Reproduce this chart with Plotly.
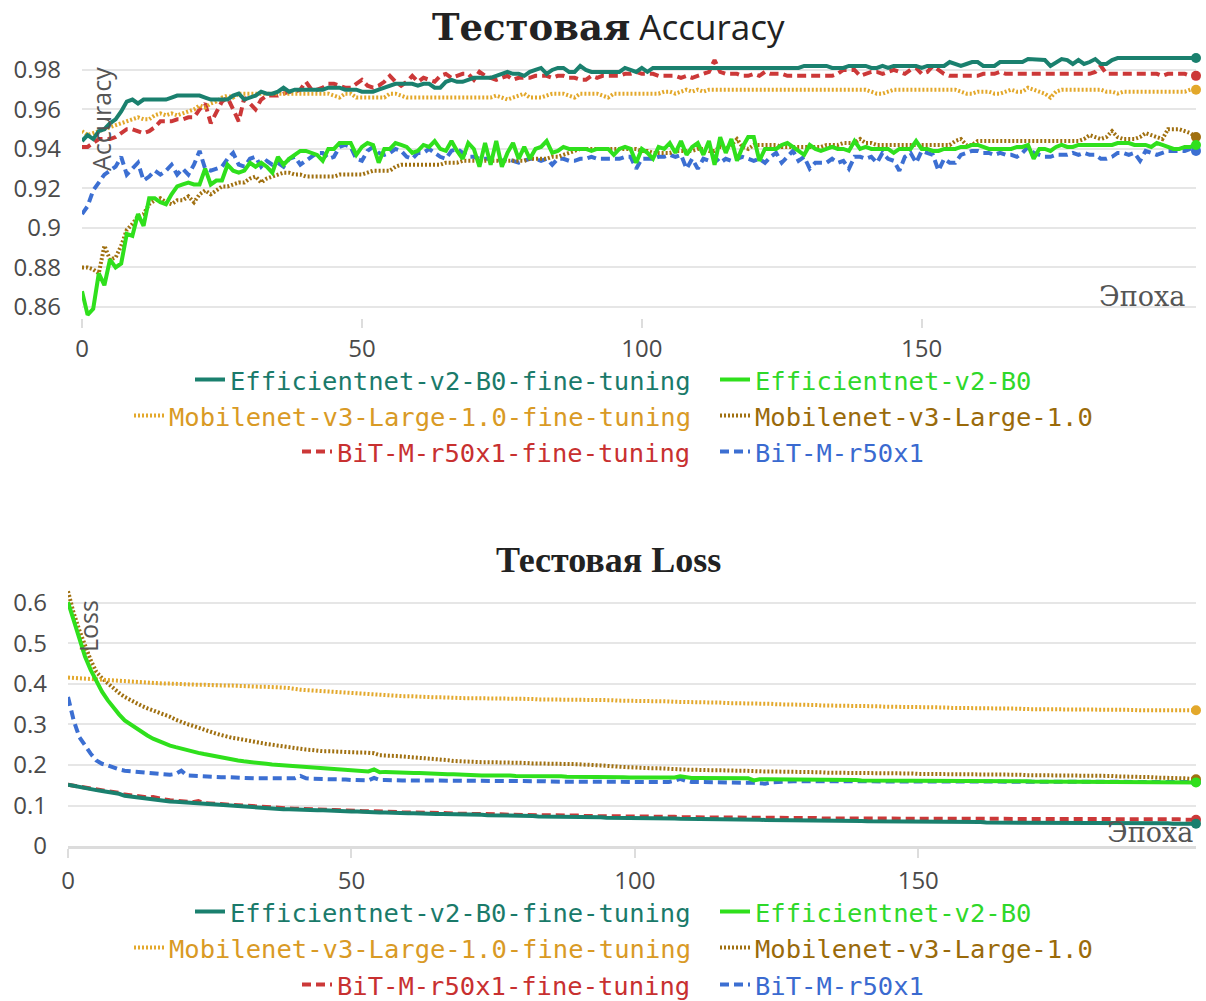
import plotly.graph_objects as go

# ---------------- data ----------------
epochs = list(range(200))

series_names = [
    "Efficientnet-v2-B0-fine-tuning",
    "Efficientnet-v2-B0",
    "Mobilenet-v3-Large-1.0-fine-tuning",
    "Mobilenet-v3-Large-1.0",
    "BiT-M-r50x1-fine-tuning",
    "BiT-M-r50x1",
]

# Test accuracy, in thousandths
acc_effnet_ft = [
    944, 947, 945, 949, 950, 953, 955, 959, 964, 965,
    963, 965, 965, 965, 965, 965, 966, 967, 967, 967,
    967, 967, 966, 965, 965, 965, 965, 967, 968, 965,
    966, 967, 969, 968, 968, 969, 971, 969, 970, 970,
    970, 970, 970, 970, 971, 971, 971, 970, 970, 970,
    969, 969, 969, 970, 971, 972, 973, 973, 973, 973,
    972, 973, 973, 971, 971, 974, 975, 974, 974, 975,
    976, 976, 976, 976, 977, 978, 979, 978, 978, 977,
    979, 980, 981, 978, 980, 981, 981, 979, 979, 982,
    980, 979, 979, 979, 979, 979, 979, 981, 980, 979,
    981, 979, 981, 981, 981, 981, 981, 981, 981, 981,
    981, 981, 981, 981, 981, 981, 981, 981, 981, 981,
    981, 981, 981, 981, 981, 981, 981, 981, 981, 982,
    982, 982, 982, 982, 981, 981, 981, 982, 982, 982,
    982, 981, 981, 982, 981, 982, 982, 982, 982, 982,
    981, 982, 982, 982, 982, 984, 983, 982, 983, 984,
    984, 982, 982, 982, 984, 984, 984, 984, 984, 985.5,
    985.5, 985.5, 985, 982, 984, 985.5, 985, 983, 985, 983,
    984, 985.5, 983, 983, 985, 986, 986, 986, 986, 986,
    986, 986, 986, 986, 986, 986, 986, 986, 986, 986,
]
acc_effnet = [
    868, 856, 859, 877, 871, 884, 880, 882, 897, 896,
    907, 901, 915, 915, 913, 912, 917, 921, 922, 923,
    922, 922, 930, 922, 924, 924, 932, 929, 928, 929,
    933, 931, 933, 931, 928, 936, 932, 935, 937, 939,
    939, 938, 937, 934, 940, 940, 943, 943, 943, 937,
    941, 943, 942, 933, 940, 940, 943, 942, 941, 938,
    939, 942, 941, 944, 940, 939, 944, 939, 935, 943,
    940, 931, 943, 932, 944, 931, 938, 943, 935, 941,
    935, 940, 941, 944, 938, 939, 941, 940, 940, 940,
    940, 939, 940, 940, 940, 937, 940, 941, 940, 933,
    940, 938, 935, 941, 940, 943, 938, 944, 937, 941,
    943, 937, 944, 932, 946, 938, 945, 934, 941, 946,
    946, 934, 940, 940, 940, 942, 943, 941, 939, 937,
    942, 940, 939, 940, 941, 940, 940, 939, 944, 940,
    941, 940, 940, 940, 940, 938, 940, 940, 940, 944,
    940, 940, 939, 939, 940, 940, 940, 941, 941, 942,
    942, 941, 940, 940, 940, 940, 940, 941, 941, 942,
    935, 940, 940, 939, 941, 942, 941, 941, 942, 942,
    942, 942, 942, 942, 942, 943, 943, 943, 942, 942,
    942, 941, 943, 942, 941, 940, 940, 941, 941, 942,
]
acc_mobilenet_ft = [
    949, 947, 948, 949, 950, 951, 952, 953, 954, 955,
    956, 955, 955, 957, 958, 957, 958, 957, 958, 959,
    960, 962, 961, 963, 964, 966, 967, 966, 968, 968,
    968, 968, 968, 968, 968, 968, 968, 968, 968, 968,
    968, 968, 968, 968, 968, 967, 966, 968, 968, 966,
    966, 966, 966, 966, 966, 968, 968, 967, 966, 966,
    966, 966, 966, 966, 966, 966, 966, 966, 966, 966,
    966, 966, 966, 966, 967, 966, 965, 966, 967, 968,
    966, 966, 966, 967, 968, 968, 968, 967, 966, 968,
    968, 968, 968, 967, 966, 968, 968, 968, 968, 968,
    968, 968, 968, 968, 969, 969, 968, 969, 970, 969,
    970, 969, 970, 970, 970, 970, 970, 970, 970, 970,
    970, 970, 970, 970, 970, 970, 970, 970, 970, 970,
    970, 970, 970, 970, 970, 970, 970, 970, 970, 970,
    970, 969, 968, 968, 969, 970, 970, 970, 970, 970,
    970, 970, 970, 970, 970, 970, 970, 969, 968, 968,
    969, 969, 969, 968, 968, 969, 970, 969, 969, 971,
    970, 969, 968, 966, 969, 970, 970, 970, 970, 970,
    970, 970, 970, 969, 969, 968, 969, 969, 969, 969,
    969, 969, 969, 969, 969, 969, 969, 969, 970, 970,
]
acc_mobilenet = [
    880, 880, 879, 877, 891, 884, 885, 891, 899, 902,
    906, 907, 912, 914, 915, 913, 912, 914, 914, 916,
    913, 917, 919, 917, 919, 921, 921, 922, 923, 923,
    925, 926, 923, 925, 926, 927, 928, 928, 927, 927,
    926, 926, 926, 926, 926, 926, 927, 927, 927, 927,
    927, 928, 929, 929, 929, 929, 931, 932, 932, 932,
    932, 932, 932, 932, 932, 933, 933, 933, 934, 934,
    934, 934, 934, 934, 934, 934, 934, 934, 934, 934,
    935, 935, 935, 935, 936, 936, 937, 938, 939, 940,
    940, 940, 940, 940, 940, 940, 940, 940, 940, 940,
    939, 939, 938, 938, 938, 938, 939, 939, 939, 939,
    940, 940, 939, 939, 941, 940, 942, 945, 941, 940,
    942, 942, 942, 942, 942, 941, 941, 941, 941, 941,
    941, 941, 941, 942, 942, 942, 943, 943, 943, 945,
    943, 943, 942, 942, 942, 942, 942, 942, 942, 942,
    942, 942, 942, 942, 942, 942, 944, 945, 942, 942,
    944, 944, 944, 944, 944, 944, 944, 944, 944, 944,
    944, 944, 944, 944, 944, 944, 944, 944, 944, 945,
    947, 946, 945, 946, 949, 946, 945, 945, 945, 946,
    948, 947, 946, 945, 950, 950, 950, 949, 948, 946,
]
acc_bit_ft = [
    941, 941, 943, 945, 945, 945, 946, 948, 950, 950,
    949, 948, 949, 951, 954, 954, 954, 955, 955, 956,
    956, 960, 963, 953, 958, 964, 966, 960, 954, 966,
    963, 960, 965, 967, 967, 967, 968, 969, 969, 970,
    974, 970, 970, 971, 973, 973, 972, 971, 971, 973,
    975, 972, 971, 972, 974, 977, 974, 972, 974, 977,
    974, 976, 975, 974, 977, 978, 976, 977, 978, 978,
    975, 979, 977, 976, 975, 976, 977, 975, 976, 976,
    976, 977, 977, 977, 976, 977, 977, 976, 976, 975,
    975, 977, 976, 977, 977, 977, 977, 978, 978, 979,
    978, 978, 978, 977, 977, 977, 977, 976, 977, 976,
    977, 978, 979, 985, 979, 978, 978, 978, 977, 977,
    978, 977, 979, 978, 978, 978, 977, 977, 977, 977,
    977, 977, 977, 977, 977, 978, 980, 980, 980, 977,
    978, 979, 979, 978, 979, 980, 979, 978, 980, 981,
    978, 979, 982, 980, 978, 977, 977, 977, 977, 977,
    977, 978, 978, 978, 979, 978, 978, 978, 978, 978,
    978, 978, 978, 978, 978, 978, 978, 978, 978, 978,
    978, 979, 982, 978, 978, 978, 978, 978, 978, 978,
    978, 978, 978, 977, 978, 978, 978, 978, 977, 977,
]
acc_bit = [
    907, 911, 919, 923, 927, 929, 931, 936, 927, 930,
    933, 924, 926, 929, 927, 929, 932, 927, 930, 927,
    932, 939, 930, 929, 930, 931, 935, 938, 932, 931,
    935, 936, 931, 934, 932, 933, 931, 935, 936, 932,
    934, 936, 938, 938, 935, 936, 941, 942, 941, 935,
    934, 939, 941, 938, 937, 938, 940, 939, 936, 935,
    938, 938, 940, 938, 936, 935, 939, 940, 938, 936,
    936, 935, 935, 935, 935, 934, 935, 934, 933, 934,
    935, 935, 934, 935, 932, 935, 935, 934, 934, 935,
    935, 936, 935, 935, 935, 935, 935, 936, 936, 930,
    935, 935, 935, 936, 936, 937, 936, 937, 930, 935,
    930, 935, 934, 936, 933, 935, 934, 935, 936, 935,
    934, 935, 933, 936, 938, 933, 936, 939, 934, 936,
    930, 933, 933, 933, 935, 933, 934, 930, 936, 936,
    935, 936, 933, 938, 935, 934, 929, 936, 938, 933,
    939, 938, 937, 929, 935, 933, 933, 937, 938, 939,
    939, 938, 938, 937, 938, 937, 937, 936, 938, 941,
    938, 937, 936, 936, 937, 937, 937, 938, 937, 938,
    937, 937, 935, 935, 936, 938, 938, 937, 938, 934,
    939, 938, 937, 938, 939, 939, 939, 939, 940, 939,
]

# Test loss, in thousandths
loss_effnet_ft = [
    151, 148, 146, 143, 141, 138, 136, 134, 131, 129,
    124, 122, 120, 119, 117, 115, 114, 112, 110, 109,
    108, 106, 105, 104, 103, 102, 101, 100, 99, 98,
    97, 96, 95, 94, 94, 93, 92, 92, 91, 91,
    90, 90, 89, 89, 88, 88, 87, 87, 86, 86,
    85, 85, 84, 84, 84, 83, 83, 82, 82, 81,
    81, 81, 80, 80, 80, 79, 79, 79, 78, 78,
    78, 77, 77, 77, 76, 76, 76, 75, 75, 75,
    74, 74, 74, 73, 73, 73, 73, 72, 72, 72,
    72, 71, 71, 71, 71, 70, 70, 70, 70, 69,
    69, 69, 69, 68, 68, 68, 68, 68, 67, 67,
    67, 67, 66, 66, 66, 66, 66, 65, 65, 65,
    65, 65, 65, 64, 64, 64, 64, 64, 63, 63,
    63, 63, 63, 63, 62, 62, 62, 62, 62, 62,
    62, 61, 61, 61, 61, 61, 61, 60, 60, 60,
    60, 60, 60, 60, 59, 59, 59, 59, 59, 59,
    59, 59, 58, 58, 58, 58, 58, 58, 58, 58,
    57, 57, 57, 57, 57, 57, 57, 57, 57, 57,
    57, 57, 57, 57, 56, 56, 56, 56, 56, 56,
    56, 56, 56, 56, 56, 55, 55, 55, 55, 55,
]
loss_effnet = [
    602, 559, 509, 468, 435, 406, 381, 360, 341, 325,
    310, 300, 290, 281, 273, 265, 259, 253, 248, 244,
    240, 236, 233, 230, 227, 224, 221, 218, 216, 213,
    211, 209, 208, 206, 205, 203, 201, 200, 198, 196,
    195, 194, 193, 192, 191, 190, 189, 188, 187, 187,
    186, 186, 185, 184, 189, 182, 183, 182, 182, 181,
    181, 180, 180, 179, 178, 178, 178, 177, 177, 176,
    176, 175, 175, 174, 174, 174, 176, 174, 174, 173,
    173, 173, 173, 172, 172, 174, 172, 172, 171, 171,
    171, 171, 172, 170, 170, 170, 170, 170, 170, 169,
    169, 169, 169, 169, 169, 169, 169, 169, 172, 169,
    168, 168, 168, 168, 168, 168, 168, 168, 167, 167,
    167, 162, 165, 165, 165, 165, 165, 165, 164, 164,
    164, 164, 164, 163, 163, 163, 163, 163, 163, 163,
    162, 162, 162, 162, 162, 162, 162, 162, 162, 162,
    161, 161, 161, 161, 161, 161, 161, 161, 161, 161,
    160, 160, 160, 160, 160, 160, 160, 160, 160, 160,
    159, 159, 159, 159, 159, 159, 159, 159, 159, 159,
    159, 159, 159, 158, 158, 158, 158, 158, 158, 158,
    158, 158, 157, 157, 157, 157, 157, 157, 157, 157,
]
loss_mobilenet_ft = [
    416, 415, 414, 413, 412, 411, 410, 409, 408, 407,
    406, 405, 404, 403, 403, 402, 402, 401, 401, 400,
    399, 399, 398, 398, 398, 397, 397, 397, 396, 396,
    395, 395, 394, 394, 393, 393, 393, 392, 391, 390,
    387, 386, 385, 384, 383, 382, 381, 380, 379, 378,
    377, 376, 375, 375, 374, 373, 373, 372, 371, 370,
    370, 369, 369, 368, 368, 367, 367, 366, 366, 366,
    365, 365, 365, 365, 364, 364, 364, 364, 363, 363,
    363, 363, 363, 362, 362, 362, 362, 362, 361, 361,
    361, 361, 360, 360, 360, 360, 360, 359, 359, 359,
    359, 358, 358, 358, 357, 357, 357, 356, 356, 356,
    355, 355, 355, 354, 354, 354, 353, 353, 353, 352,
    352, 352, 351, 351, 351, 350, 350, 349, 349, 348,
    348, 348, 348, 347, 347, 347, 347, 346, 346, 346,
    345, 345, 345, 345, 344, 344, 344, 344, 343, 343,
    343, 343, 342, 342, 342, 342, 341, 341, 341, 341,
    340, 340, 340, 340, 339, 339, 339, 339, 339, 338,
    338, 338, 338, 338, 338, 337, 337, 337, 337, 337,
    337, 337, 336, 336, 336, 336, 336, 336, 336, 335,
    335, 335, 335, 335, 335, 335, 335, 335, 335, 335,
]
loss_mobilenet = [
    629, 575, 533, 493, 459, 430, 414, 402, 389, 378,
    368, 360, 352, 346, 340, 335, 330, 325, 319, 312,
    306, 301, 297, 292, 286, 281, 278, 274, 270, 267,
    265, 262, 260, 257, 255, 252, 250, 248, 245, 243,
    240, 239, 238, 237, 235, 234, 234, 233, 233, 232,
    232, 231, 231, 230, 229, 224, 224, 223, 222, 221,
    220, 219, 218, 218, 217, 216, 214, 212, 210, 209,
    209, 208, 208, 207, 207, 207, 206, 206, 205, 205,
    205, 205, 204, 204, 204, 203, 203, 203, 203, 202,
    202, 201, 201, 200, 199, 198, 196, 196, 195, 194,
    194, 193, 193, 192, 192, 191, 190, 190, 189, 188,
    188, 188, 187, 187, 187, 187, 186, 186, 186, 186,
    185, 185, 185, 184, 184, 184, 184, 183, 183, 182,
    182, 182, 182, 182, 181, 181, 181, 181, 181, 180,
    180, 180, 180, 180, 180, 179, 179, 179, 179, 179,
    178, 178, 178, 178, 178, 178, 177, 177, 177, 177,
    177, 176, 176, 176, 176, 176, 176, 176, 176, 175,
    175, 175, 175, 175, 175, 174, 174, 174, 174, 174,
    174, 173, 173, 173, 173, 172, 172, 172, 171, 171,
    170, 170, 169, 169, 168, 168, 167, 167, 166, 165,
]
loss_bit_ft = [
    151, 149, 147, 144, 142, 140, 137, 135, 133, 131,
    127, 125, 123, 122, 120, 121, 117, 115, 113, 112,
    110, 109, 108, 111, 106, 105, 104, 103, 102, 101,
    100, 99, 98, 97, 96, 96, 95, 94, 94, 93,
    92, 92, 91, 91, 90, 90, 89, 89, 88, 88,
    87, 87, 86, 86, 86, 85, 85, 84, 84, 83,
    83, 83, 82, 82, 82, 81, 81, 81, 80, 80,
    80, 79, 79, 79, 78, 78, 78, 78, 77, 77,
    77, 77, 76, 76, 76, 76, 75, 75, 75, 75,
    75, 74, 74, 74, 74, 74, 73, 73, 73, 73,
    73, 73, 72, 72, 72, 72, 72, 72, 71, 71,
    71, 71, 71, 71, 70, 70, 70, 70, 70, 70,
    70, 70, 70, 69, 69, 69, 69, 69, 69, 69,
    69, 69, 69, 68, 68, 68, 68, 68, 68, 68,
    68, 68, 68, 68, 68, 68, 68, 68, 68, 68,
    68, 67, 67, 67, 67, 67, 67, 67, 67, 67,
    67, 67, 67, 67, 67, 67, 67, 67, 67, 67,
    67, 67, 67, 67, 67, 66, 66, 66, 66, 66,
    66, 66, 66, 66, 66, 66, 66, 66, 66, 66,
    66, 66, 66, 66, 66, 66, 66, 65, 65, 65,
]
loss_bit = [
    368, 310, 269, 248, 228, 211, 203, 199, 193, 189,
    186, 185, 184, 183, 182, 180, 179, 178, 176, 178,
    186, 174, 173, 173, 172, 172, 171, 170, 170, 169,
    168, 168, 168, 167, 167, 167, 167, 167, 167, 167,
    167, 173, 167, 166, 166, 166, 165, 165, 164, 164,
    163, 163, 163, 162, 168, 163, 163, 162, 162, 162,
    162, 162, 162, 162, 161, 161, 161, 161, 161, 161,
    161, 161, 161, 161, 160, 160, 160, 160, 160, 160,
    160, 160, 160, 160, 160, 159, 159, 159, 159, 159,
    159, 159, 159, 159, 158, 158, 158, 158, 158, 158,
    158, 158, 158, 158, 158, 158, 158, 161, 166, 161,
    158, 158, 158, 158, 158, 158, 157, 157, 157, 157,
    157, 156, 155, 154, 157, 157, 158, 159, 160, 160,
    160, 160, 160, 160, 160, 160, 160, 160, 159, 159,
    159, 159, 159, 159, 159, 159, 159, 159, 159, 159,
    159, 159, 159, 159, 159, 159, 159, 159, 159, 159,
    159, 159, 159, 158, 158, 158, 158, 158, 158, 158,
    158, 158, 158, 158, 158, 158, 158, 158, 158, 158,
    158, 158, 158, 158, 158, 158, 158, 158, 158, 158,
    158, 158, 158, 158, 158, 158, 158, 158, 158, 158,
]

acc_series = [acc_effnet_ft, acc_effnet, acc_mobilenet_ft, acc_mobilenet, acc_bit_ft, acc_bit]
loss_series = [loss_effnet_ft, loss_effnet, loss_mobilenet_ft, loss_mobilenet, loss_bit_ft, loss_bit]

# ---------------- styles ----------------
W, H = 1206, 1001
line_colors = ["#1a806e", "#2fe01c", "#e3a82b", "#a07010", "#cc3838", "#3c6fd2"]
text_colors = ["#1a7a6a", "#2fd82a", "#d99a25", "#9a6a0a", "#c83030", "#3a6ad0"]
dashes = ["solid", "solid", "2px,2px", "2px,2px", "9px,5px", "9px,5px"]
draw_order = [5, 4, 3, 2, 1, 0]


def px_x(p):
    return p / W


def px_y(p):
    return 1 - p / H


fig = go.Figure()

panels = [
    dict(data=acc_series, xa="x", ya="y", legend_offset=0),
    dict(data=loss_series, xa="x2", ya="y2", legend_offset=6),
]
for panel in panels:
    for i in draw_order:
        vals = [v / 1000 for v in panel["data"][i]]
        k = panel["legend_offset"] + i
        lg = "legend" if k == 0 else f"legend{k + 1}"
        fig.add_trace(go.Scatter(
            x=epochs, y=vals, mode="lines", name=series_names[i],
            line=dict(color=line_colors[i], width=4, dash=dashes[i]),
            xaxis=panel["xa"], yaxis=panel["ya"], legend=lg,
            hoverinfo="skip",
        ))
    for i in draw_order:
        vals = panel["data"][i]
        fig.add_trace(go.Scatter(
            x=[epochs[-1]], y=[vals[-1] / 1000], mode="markers",
            marker=dict(color=line_colors[i], size=10),
            xaxis=panel["xa"], yaxis=panel["ya"], showlegend=False,
            cliponaxis=False, hoverinfo="skip",
        ))

# legends: 2 columns x 3 rows for each panel
legend_layout = {}
row_y_top = [380, 416, 452]
row_y_bot = [912, 948, 985]
for p, rows in enumerate([row_y_top, row_y_bot]):
    for i in range(6):
        k = p * 6 + i
        key = "legend" if k == 0 else f"legend{k + 1}"
        row = i // 2
        left = (i % 2 == 0)
        legend_layout[key] = dict(
            xref="container", yref="container",
            x=px_x(696) if left else px_x(715),
            xanchor="right" if left else "left",
            y=px_y(rows[row]), yanchor="middle",
            orientation="h",
            bgcolor="rgba(0,0,0,0)",
            font=dict(family="DejaVu Sans Mono", size=25.5, color=text_colors[i]),
            itemwidth=30,
            itemclick=False, itemdoubleclick=False,
        )

tick_font = dict(family="Open Sans", size=24, color="#4a4a4a")
grid = "#e6e6e6"

fig.update_layout(
    width=W, height=H,
    margin=dict(l=0, r=0, t=0, b=0, autoexpand=False),
    paper_bgcolor="white", plot_bgcolor="white",
    showlegend=True,
    xaxis=dict(domain=[px_x(82), px_x(1196)], range=[0, 199], anchor="y",
               showgrid=False, zeroline=False, showline=False,
               tickmode="linear", tick0=0, dtick=50,
               ticks="outside", ticklen=9, tickwidth=2, tickcolor="#dddddd",
               tickfont=tick_font, ticklabelstandoff=0, automargin=False),
    yaxis=dict(domain=[px_y(318), px_y(48)], range=[0.8544, 0.9911], anchor="x",
               showgrid=True, gridcolor=grid, gridwidth=2, zeroline=False,
               tickmode="linear", tick0=0.86, dtick=0.02,
               tickfont=tick_font, ticklabelstandoff=20, automargin=False),
    xaxis2=dict(domain=[px_x(68), px_x(1196)], range=[0, 199], anchor="y2",
                showgrid=False, zeroline=False, showline=True,
                linecolor="#dcdcdc", linewidth=3,
                tickmode="linear", tick0=0, dtick=50,
                ticks="outside", ticklen=9, tickwidth=2, tickcolor="#dddddd",
                tickfont=tick_font, ticklabelstandoff=2, automargin=False),
    yaxis2=dict(domain=[px_y(846), px_y(588)], range=[0, 0.637], anchor="x2",
                showgrid=True, gridcolor=grid, gridwidth=2, zeroline=False,
                tickmode="linear", tick0=0, dtick=0.1,
                tickfont=tick_font, ticklabelstandoff=20, automargin=False),
    **legend_layout,
)

annotations = [
    dict(text='<span style="font-family:DejaVu Serif;font-size:37px;font-weight:bold">Тестовая</span> Accuracy',
         x=px_x(608), y=px_y(27), xref="paper", yref="paper",
         xanchor="center", yanchor="middle", showarrow=False,
         font=dict(family="Open Sans", size=35, color="#222222")),
    dict(text="<b>Тестовая Loss</b>",
         x=px_x(608), y=px_y(560), xref="paper", yref="paper",
         xanchor="center", yanchor="middle", showarrow=False,
         font=dict(family="Liberation Serif", size=36, color="#222222")),
    dict(text="Accuracy", textangle=-90,
         x=px_x(101), y=px_y(119), xref="paper", yref="paper",
         xanchor="center", yanchor="middle", showarrow=False,
         font=dict(family="Open Sans", size=25, color="#555555")),
    dict(text="Loss", textangle=-90,
         x=px_x(88), y=px_y(626), xref="paper", yref="paper",
         xanchor="center", yanchor="middle", showarrow=False,
         font=dict(family="Open Sans", size=25, color="#555555")),
    dict(text="Эпоха",
         x=px_x(1142), y=px_y(296), xref="paper", yref="paper",
         xanchor="center", yanchor="middle", showarrow=False,
         font=dict(family="DejaVu Serif", size=27, color="#555555")),
    dict(text="Эпоха",
         x=px_x(1150), y=px_y(832), xref="paper", yref="paper",
         xanchor="center", yanchor="middle", showarrow=False,
         font=dict(family="DejaVu Serif", size=27, color="#555555")),
]
fig.update_layout(annotations=annotations)

fig.write_html("out.html")
